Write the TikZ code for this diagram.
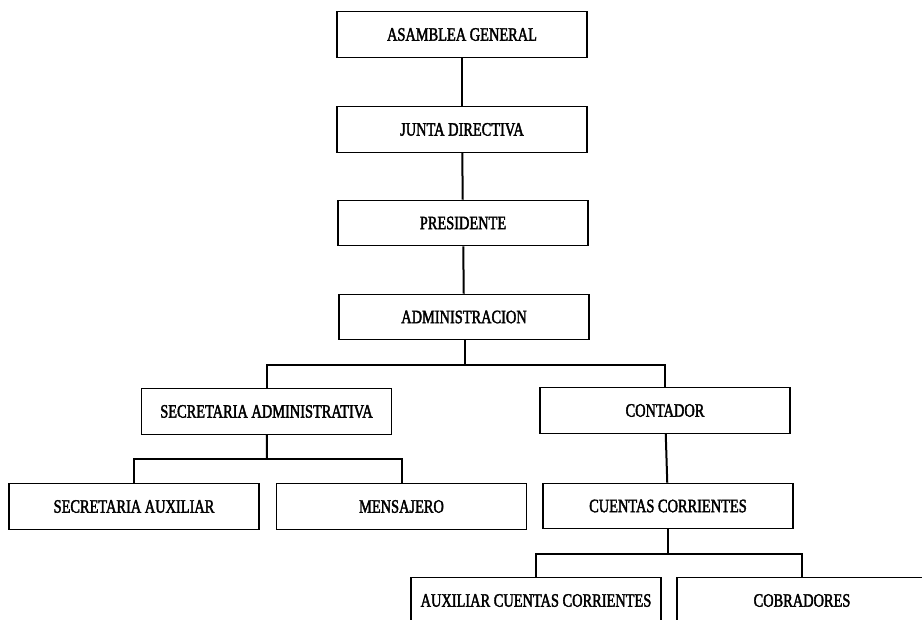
\documentclass[tikz,border=0pt]{standalone}
\usepackage{fontspec}
\setmainfont{Liberation Serif}[FakeStretch=0.76,FakeBold=2]
\usepackage{tikz}
\usetikzlibrary{positioning}

\begin{document}
\begin{tikzpicture}[x=0.75pt, y=-0.75pt,
  box/.style={rectangle, draw, line width=0.9pt, minimum width=187.5pt, minimum height=34pt, inner sep=0pt, font=\fontsize{14.2}{16}\selectfont},
  link/.style={line width=1.5pt}]

\clip (0,0) rectangle (922,619);
\fill[white] (0,0) rectangle (922,619);

% 
\node[box] (asamblea) at (462, 34.5) {ASAMBLEA GENERAL};
\node[box] (junta) at (462, 129.5) {JUNTA DIRECTIVA};
\node[box] (presidente) at (463, 223) {PRESIDENTE};
\node[box] (admin) at (464, 317) {ADMINISTRACION};
\node[box] (secadm) at (266.5, 411.5) {SECRETARIA ADMINISTRATIVA};
\node[box] (contador) at (665, 410.5) {CONTADOR};
\node[box] (secaux) at (134, 506.5) {SECRETARIA AUXILIAR};
\node[box] (mensajero) at (401.5, 506.5) {MENSAJERO};
\node[box] (cuentas) at (668, 506) {CUENTAS CORRIENTES};
\node[box] (auxcc) at (536, 600.5) {AUXILIAR CUENTAS CORRIENTES};
\node[box] (cobradores) at (802, 600.5) {COBRADORES};

% 
\coordinate (a1) at (465, 365);
\coordinate (s1) at (267, 459);
\coordinate (c1) at (668, 554);

% 
\draw[link] (asamblea) -- (junta);
\draw[link] (junta) -- (presidente);
\draw[link] (presidente) -- (admin);
\draw[link] (admin.south -| a1) -- (a1);
\draw[link] (a1) -| (secadm);
\draw[link] (a1) -| (contador);
\draw[link] (secadm) -- (s1);
\draw[link] (s1) -| (secaux);
\draw[link] (s1) -| (mensajero);
\draw[link] (contador) -- (cuentas);
\draw[link] (cuentas) -- (c1);
\draw[link] (c1) -| (auxcc);
\draw[link] (c1) -| (cobradores);

\end{tikzpicture}
\end{document}
